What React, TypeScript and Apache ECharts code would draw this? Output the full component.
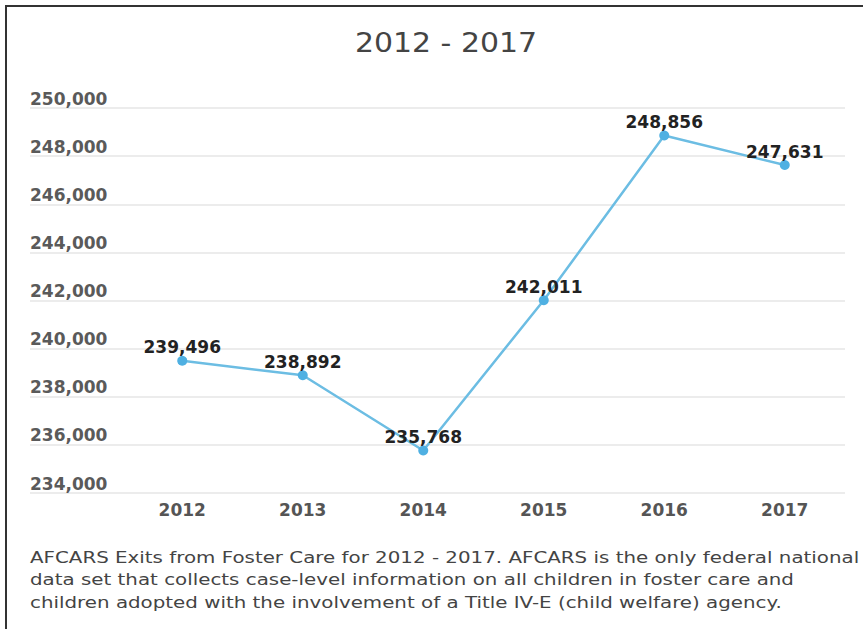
import React, { useEffect, useRef } from "react";
import * as echarts from "echarts";

const years = ["2012", "2013", "2014", "2015", "2016", "2017"];
const exits = [239496, 238892, 235768, 242011, 248856, 247631];
const yMin = 234000;
const yMax = 250000;
const yStep = 2000;
const title = "2012 - 2017";
const footerLines = [
  "AFCARS Exits from Foster Care for 2012 - 2017. AFCARS is the only federal national",
  "data set that collects case-level information on all children in foster care and",
  "children adopted with the involvement of a Title IV-E (child welfare) agency.",
];

const FONT = "'DejaVu Sans', sans-serif";

export default function App() {
  const ref = useRef<HTMLDivElement>(null);
  useEffect(() => {
    if (!ref.current) return;
    const chart = echarts.init(ref.current, undefined, { renderer: "svg" });
    const fmt = (v: number) => v.toLocaleString("en-US");
    chart.setOption({
      animation: false,
      backgroundColor: "#ffffff",
      grid: [
        { left: 30, right: 18, top: 108, bottom: 136 },
        { left: 122, right: 18, top: 108, bottom: 136 },
      ],
      xAxis: [
        { type: "category", gridIndex: 0, data: years, show: false },
        {
          type: "category",
          gridIndex: 1,
          data: years,
          boundaryGap: true,
          axisLine: { show: false },
          axisTick: { show: false },
          splitLine: { show: false },
          axisLabel: {
            margin: 8,
            fontFamily: FONT,
            fontSize: 17,
            fontWeight: "bold",
            color: "#555555",
          },
        },
      ],
      yAxis: [
        {
          type: "value",
          gridIndex: 0,
          min: yMin,
          max: yMax,
          interval: yStep,
          axisLine: { show: false },
          axisTick: { show: false },
          splitLine: { lineStyle: { color: "#e6e6e6", width: 1.5 } },
          axisLabel: {
            inside: true,
            margin: 0,
            align: "left",
            verticalAlign: "bottom",
            padding: [0, 0, 1, 0],
            formatter: (v: number) => fmt(v),
            fontFamily: FONT,
            fontSize: 17,
            fontWeight: "bold",
            color: "#5a5a5a",
          },
        },
        {
          type: "value",
          gridIndex: 1,
          min: yMin,
          max: yMax,
          interval: yStep,
          show: false,
          splitLine: { show: false },
        },
      ],
      series: [
        {
          type: "line",
          xAxisIndex: 1,
          yAxisIndex: 1,
          data: exits,
          symbol: "circle",
          symbolSize: 10,
          itemStyle: { color: "#4fb0e2" },
          lineStyle: { color: "#6cbde3", width: 2.5 },
          label: {
            show: true,
            position: "top",
            distance: 0,
            formatter: (p: any) => fmt(p.value),
            fontFamily: FONT,
            fontSize: 17,
            fontWeight: "bold",
            color: "#222222",
          },
        },
      ],
      graphic: [
        {
          type: "rect",
          shape: { x: 6, y: 6, width: 1000, height: 1000 },
          style: { fill: "none", stroke: "#333333", lineWidth: 2 },
          silent: true,
        },
        {
          type: "text",
          x: 446,
          y: 43,
          scaleX: 1.15,
          style: {
            x: 0,
            y: 0,
            text: title,
            align: "center",
            verticalAlign: "middle",
            font: `26px ${FONT}`,
            fill: "#444444",
          },
        },
        ...footerLines.map((t, i) => ({
          type: "text",
          x: 30,
          y: 557 + i * 22.5,
          scaleX: 1.24,
          style: {
            x: 0,
            y: 0,
            text: t,
            align: "left",
            verticalAlign: "middle",
            font: `16px ${FONT}`,
            fill: "#444444",
          },
        })),
      ],
    });
    return () => chart.dispose();
  }, []);
  return (
    <div
      ref={ref}
      style={{ position: "fixed", left: 0, top: 0, width: 863, height: 629 }}
    />
  );
}
